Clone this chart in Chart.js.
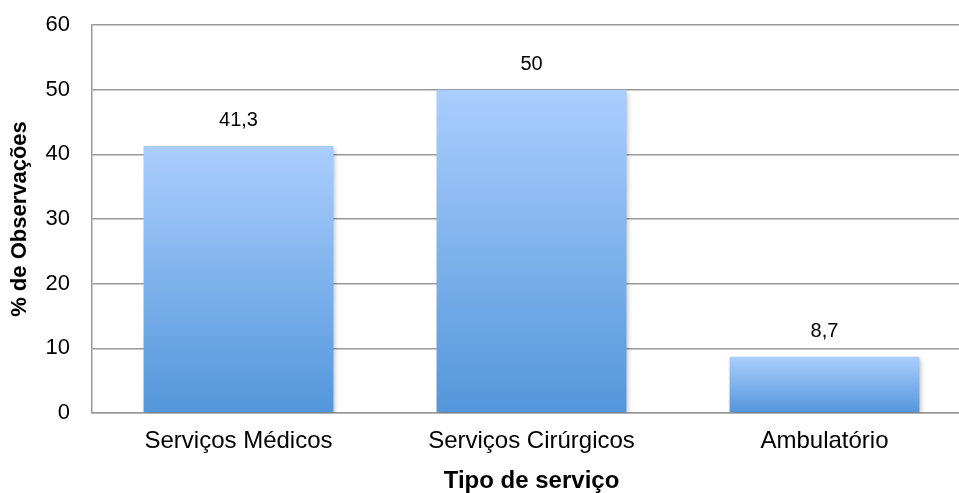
<!DOCTYPE html>
<html>
<head>
<meta charset="utf-8">
<script src="https://cdn.jsdelivr.net/npm/chart.js@4/dist/chart.umd.min.js"></script>
<style>
    html, body { margin: 0; padding: 0; background: #fff; overflow: hidden; }
    /* a área do gráfico continua um pouco além da borda direita */
    #wrap { width: 971px; height: 493px; }
</style>
</head>
<body>
<div id="wrap"><canvas id="grafico"></canvas></div>
<script>
const categorias = ['Serviços Médicos', 'Serviços Cirúrgicos', 'Ambulatório']
const observacoes = [41.3, 50, 8.7]
const rotulos = ['41,3', '50', '8,7']
const ticksY = [0, 10, 20, 30, 40, 50, 60]

const fonte = "'Liberation Sans', Arial, sans-serif"

// gradiente vertical por barra, do topo claro à base escura
function corBarra(context) {
    const chart = context.chart
    const area = chart.chartArea
    if (!area) return '#7fb0ee'
    const y = chart.scales.y
    const topo = y.getPixelForValue(context.raw)
    const base = y.getPixelForValue(0)
    const grad = chart.ctx.createLinearGradient(0, topo, 0, base)
    grad.addColorStop(0, '#aacefd')
    grad.addColorStop(1, '#5396db')
    return grad
}

const sombraBarras = {
    id: 'sombraBarras',
    beforeDatasetsDraw(chart) {
        const ctx = chart.ctx
        ctx.save()
        ctx.shadowColor = 'rgba(0,0,0,0.28)'
        ctx.shadowBlur = 5
        ctx.shadowOffsetX = 2
        ctx.shadowOffsetY = 2
    },
    afterDatasetsDraw(chart) {
        const ctx = chart.ctx
        ctx.restore()
        ctx.save()
        ctx.fillStyle = '#000'
        ctx.font = '20px ' + fonte
        ctx.textAlign = 'center'
        ctx.textBaseline = 'middle'
        chart.getDatasetMeta(0).data.forEach((barra, i) => {
            ctx.fillText(rotulos[i], barra.x, barra.y - 25)
        })
        ctx.restore()
    }
}

new Chart(document.getElementById('grafico'), {
    type: 'bar',
    data: {
        labels: categorias,
        datasets: [{
            data: observacoes,
            backgroundColor: corBarra,
            borderWidth: 0,
            categoryPercentage: 1,
            barPercentage: 0.648
        }]
    },
    options: {
        responsive: true,
        maintainAspectRatio: false,
        animation: false,
        layout: { padding: { top: 25, right: 0, bottom: 0, left: 0 } },
        plugins: {
            legend: { display: false },
            tooltip: { enabled: false }
        },
        scales: {
            x: {
                grid: { display: false, drawTicks: false },
                border: { color: '#999', width: 1.5 },
                ticks: { color: '#000', font: { family: fonte, size: 24 }, padding: 14 },
                title: {
                    display: true,
                    text: 'Tipo de serviço',
                    color: '#000',
                    font: { family: fonte, size: 24, weight: 'bold', lineHeight: 1 },
                    padding: 0
                },
                afterFit(scale) {
                    scale.height = 80
                    scale.paddingLeft = 0
                    scale.paddingRight = 0
                }
            },
            y: {
                min: 0,
                max: 60,
                afterBuildTicks(scale) { scale.ticks = ticksY.map(v => ({ value: v })) },
                grid: { color: '#999', lineWidth: 1.5, drawTicks: false },
                border: { color: '#999', width: 1.5 },
                ticks: { color: '#000', font: { family: fonte, size: 22 }, padding: 22 },
                title: {
                    display: true,
                    text: '% de Observações',
                    color: '#000',
                    font: { family: fonte, size: 22, weight: 'bold', lineHeight: 1 },
                    padding: { top: 9, bottom: 9 }
                },
                afterFit(scale) {
                    scale.width = 92
                    scale.paddingTop = 0
                    scale.paddingBottom = 0
                }
            }
        }
    },
    plugins: [sombraBarras]
})
</script>
</body>
</html>
